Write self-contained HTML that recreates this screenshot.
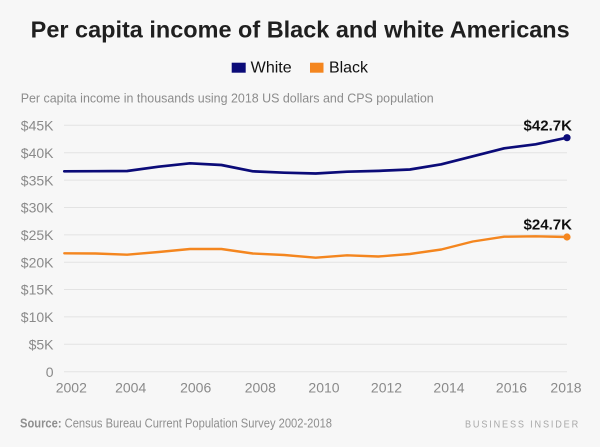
<!DOCTYPE html>
<html>
<head>
<meta charset="utf-8">
<style>
  html,body{margin:0;padding:0;background:#f7f7f7;}
  svg{display:block;}
  text{font-family:"Liberation Sans",Arial,sans-serif;}
</style>
</head>
<body>
<svg width="600" height="447" viewBox="0 0 600 447" xmlns="http://www.w3.org/2000/svg">
  <rect x="0" y="0" width="600" height="447" fill="#f7f7f7"/>
  <!-- Title -->
  <text x="30.7" y="37.7" font-size="23" font-weight="bold" fill="#1f1f1f" textLength="539" lengthAdjust="spacingAndGlyphs">Per capita income of Black and white Americans</text>
  <!-- Legend -->
  <rect x="231.7" y="62.7" width="14" height="10" fill="#0b0b78"/>
  <text x="250.7" y="72.3" font-size="16" fill="#111" textLength="41" lengthAdjust="spacingAndGlyphs">White</text>
  <rect x="310" y="62.7" width="13.5" height="10" fill="#f4861f"/>
  <text x="329" y="72.3" font-size="16" fill="#111" textLength="39" lengthAdjust="spacingAndGlyphs">Black</text>
  <!-- Subtitle -->
  <text x="20.7" y="102.3" font-size="13" fill="#8c8c8c" textLength="413" lengthAdjust="spacingAndGlyphs">Per capita income in thousands using 2018 US dollars and CPS population</text>

  <!-- Gridlines -->
  <g stroke="#e3e3e3" stroke-width="1">
    <line x1="64" x2="567" y1="125.3" y2="125.3"/>
    <line x1="64" x2="567" y1="152.7" y2="152.7"/>
    <line x1="64" x2="567" y1="180.1" y2="180.1"/>
    <line x1="64" x2="567" y1="207.5" y2="207.5"/>
    <line x1="64" x2="567" y1="234.9" y2="234.9"/>
    <line x1="64" x2="567" y1="262.3" y2="262.3"/>
    <line x1="64" x2="567" y1="289.5" y2="289.5"/>
    <line x1="64" x2="567" y1="316.9" y2="316.9"/>
    <line x1="64" x2="567" y1="344.3" y2="344.3"/>
    <line x1="64" x2="567" y1="371.7" y2="371.7"/>
  </g>

  <!-- Y labels -->
  <g font-size="14" fill="#8a8a8a" text-anchor="end">
    <text x="53.5" y="130.5">$45K</text>
    <text x="53.5" y="157.9">$40K</text>
    <text x="53.5" y="185.3">$35K</text>
    <text x="53.5" y="212.7">$30K</text>
    <text x="53.5" y="240.1">$25K</text>
    <text x="53.5" y="267.5">$20K</text>
    <text x="53.5" y="294.7">$15K</text>
    <text x="53.5" y="322.1">$10K</text>
    <text x="53.5" y="349.5">$5K</text>
    <text x="53.5" y="376.9">0</text>
  </g>

  <!-- X labels -->
  <g font-size="14" fill="#8a8a8a" text-anchor="middle">
    <text x="71.3" y="392.3">2002</text>
    <text x="130.7" y="392.3">2004</text>
    <text x="195.7" y="392.3">2006</text>
    <text x="260.3" y="392.3">2008</text>
    <text x="324" y="392.3">2010</text>
    <text x="386.5" y="392.3">2012</text>
    <text x="449" y="392.3">2014</text>
    <text x="511.5" y="392.3">2016</text>
    <text x="566" y="392.3">2018</text>
  </g>

  <!-- White series -->
  <polyline fill="none" stroke="#0b0b78" stroke-width="2.7" stroke-linejoin="round" stroke-linecap="round"
    points="64.3,171.3 95.7,171.2 127.1,171 158.6,166.7 190,163.3 221.4,165 252.8,171.3 284.2,172.7 315.7,173.5 347.1,171.7 378.5,170.9 409.9,169.5 441.3,164.3 472.8,156.3 504.2,148.3 535.6,144.3 567,137.7"/>
  <circle cx="567" cy="137.7" r="3.6" fill="#0b0b78"/>

  <!-- Black series -->
  <polyline fill="none" stroke="#f4861f" stroke-width="2.4" stroke-linejoin="round" stroke-linecap="round"
    points="64.3,253.3 95.7,253.5 127.1,254.7 158.6,252 190,249 221.4,249 252.8,253.5 284.2,255 315.7,257.7 347.1,255.3 378.5,256.5 409.9,254 441.3,249.5 472.8,241.5 504.2,236.7 535.6,236.3 567,237"/>
  <circle cx="567" cy="237" r="3.6" fill="#f4861f"/>

  <!-- End labels -->
  <text x="523.5" y="130.5" font-size="15" font-weight="bold" fill="#111" textLength="48.5" lengthAdjust="spacingAndGlyphs">$42.7K</text>
  <text x="523.5" y="229.3" font-size="15" font-weight="bold" fill="#111" textLength="48.5" lengthAdjust="spacingAndGlyphs">$24.7K</text>

  <!-- Footer -->
  <text x="20" y="427.3" font-size="12.5" fill="#8f8f8f" textLength="312" lengthAdjust="spacingAndGlyphs"><tspan font-weight="bold">Source:</tspan> Census Bureau Current Population Survey 2002-2018</text>
  <text x="465" y="427.3" font-size="10" fill="#a8a8a8" letter-spacing="2" textLength="115" lengthAdjust="spacingAndGlyphs">BUSINESS INSIDER</text>
</svg>
</body>
</html>
